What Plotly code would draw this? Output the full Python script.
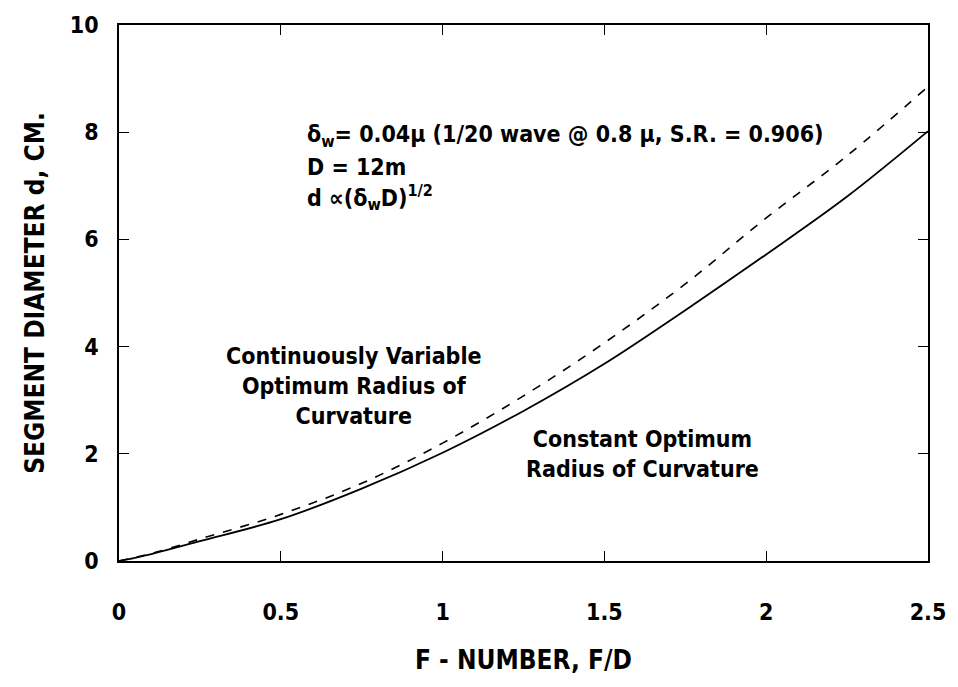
import plotly.graph_objects as go

# F-number values
f_number = [0.0, 0.1, 0.25, 0.5, 0.75, 1.0, 1.25, 1.5, 1.75, 2.0, 2.25, 2.5]
# Constant optimum radius of curvature (solid)
d_constant = [0.0, 0.13, 0.37, 0.78, 1.35, 2.02, 2.8, 3.68, 4.68, 5.72, 6.8, 8.02]
# Continuously variable optimum radius of curvature (dashed)
d_variable = [0.0, 0.14, 0.41, 0.87, 1.45, 2.2, 3.08, 4.07, 5.17, 6.4, 7.56, 8.85]

x_ticks = [0, 0.5, 1, 1.5, 2, 2.5]
x_tick_labels = ["0", "0.5", "1", "1.5", "2", "2.5"]
y_ticks = [0, 2, 4, 6, 8, 10]
y_tick_labels = ["0", "2", "4", "6", "8", "10"]

FONT = "Liberation Sans Narrow, DejaVu Sans Condensed, Arial Narrow, sans-serif"

fig = go.Figure()
fig.add_trace(go.Scatter(x=f_number, y=d_variable, mode="lines",
                         line=dict(color="black", width=1.6, dash="dash"),
                         line_shape="spline", showlegend=False))
fig.add_trace(go.Scatter(x=f_number, y=d_constant, mode="lines",
                         line=dict(color="black", width=1.8),
                         line_shape="spline", showlegend=False))

axis_common = dict(showgrid=False, zeroline=False, showline=True, linecolor="black",
                   linewidth=1.5, mirror="ticks", ticks="inside", ticklen=10,
                   tickwidth=1.3, tickcolor="black",
                   tickfont=dict(family=FONT, size=23, color="black", weight="bold"))

fig.update_xaxes(range=[0, 2.5], tickvals=x_ticks, ticktext=x_tick_labels,
                 ticklabelstandoff=30,
                 title=dict(text="F - NUMBER, F/D", standoff=26,
                            font=dict(family=FONT, size=26, color="black", weight="bold")),
                 **axis_common)
fig.update_yaxes(range=[0, 10], tickvals=y_ticks, ticktext=y_tick_labels,
                 ticklabelstandoff=14,
                 title=dict(text="SEGMENT DIAMETER d, CM.", standoff=18,
                            font=dict(family=FONT, size=26, color="black", weight="bold")),
                 **axis_common)

ann_font = dict(family=FONT, size=23, color="black", weight="bold")
notes = [
    (0.575, 7.93, "δ<sub>w</sub>= 0.04μ (1/20 wave @ 0.8 μ, S.R. = 0.906)", "left"),
    (0.575, 7.35, "D = 12m", "left"),
    (0.575, 6.79, "d ∝(δ<sub>w</sub>D)<sup>1/2</sup>", "left"),
]
for x, y, t, a in notes:
    fig.add_annotation(x=x, y=y, text=t, showarrow=False, xanchor=a, yanchor="middle",
                       font=ann_font)

fig.add_annotation(x=0.726, y=3.27, text="Continuously Variable<br>Optimum Radius of<br>Curvature",
                   showarrow=False, align="center", font=ann_font)
fig.add_annotation(x=1.618, y=1.99, text="Constant Optimum<br>Radius of Curvature",
                   showarrow=False, align="center", font=ann_font)

fig.update_layout(width=958, height=687, paper_bgcolor="white", plot_bgcolor="white",
                  margin=dict(l=119, r=24, t=17, b=126))

fig.write_html("out.html")
